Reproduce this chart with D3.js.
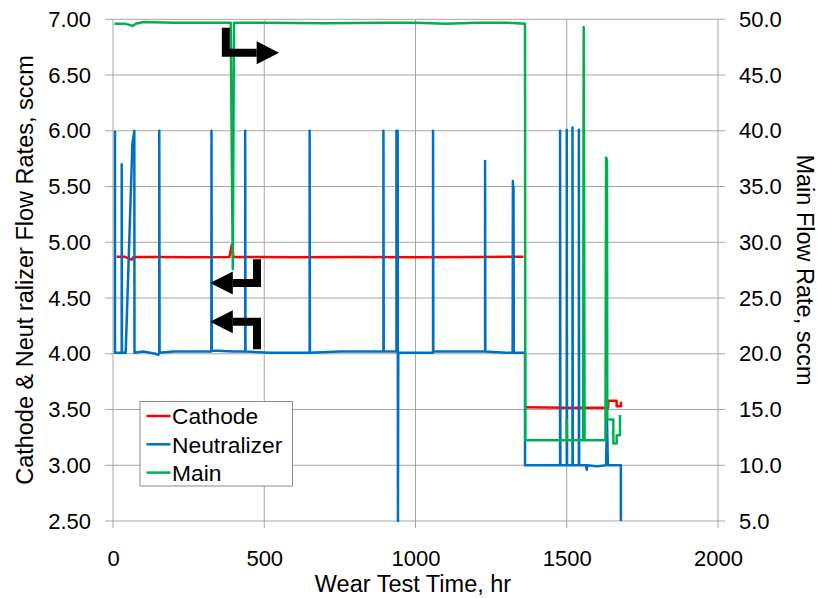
<!DOCTYPE html>
<html>
<head>
<meta charset="utf-8">
<script src="https://cdn.jsdelivr.net/npm/d3@7"></script>
<style>
  html, body { margin: 0; padding: 0; background: #fff; }
  text { font-family: "Liberation Sans", Arial, sans-serif; fill: #000; }
</style>
</head>
<body>
<svg id="chart" width="817" height="598"></svg>
<script>
// ---------- data ----------
const xTicks = [0, 500, 1000, 1500, 2000];
const leftTicks = [2.5, 3.0, 3.5, 4.0, 4.5, 5.0, 5.5, 6.0, 6.5, 7.0];
const rightTicks = [5, 10, 15, 20, 25, 30, 35, 40, 45, 50];
const seriesNames = ["Cathode", "Neutralizer", "Main"];
const seriesColors = ["#ff0000", "#0070c0", "#00b050"];

// Cathode flow (left axis, sccm) : [hours, value]
const cathode = [
  [12, 4.87], [40, 4.87], [55, 4.85], [62, 4.845], [68, 4.868], [150, 4.868], [250, 4.865],
  [385, 4.868], [393, 4.98], [398, 4.868], [600, 4.865], [800, 4.868], [1000, 4.865],
  [1200, 4.868], [1357, 4.87], [1359, null], [1362, 3.52], [1500, 3.515], [1637, 3.515],
  [1637, 3.578], [1665, 3.578], [1665, 3.53], [1679, 3.53], [1679, 3.57]
];

// Neutralizer flow (left axis, sccm)
const neutralizer = [
  [6.6, 6.00], [6.6, 4.01], [28.8, 4.01], [28.8, 5.70], [29.6, 4.01], [42, 4.01], [64, 5.88],
  [70.5, 6.00], [71, 4.01], [100, 4.02], [140, 4.00], [150, 3.99], [153, 4.01], [153, 6.00],
  [154, 4.01], [200, 4.02], [325, 4.02], [325.6, 6.00], [326.5, 4.03], [400, 4.02], [437, 4.02],
  [437, 6.00], [438, 4.02], [520, 4.01], [650, 4.01], [650, 6.00], [651, 4.01], [750, 4.02],
  [894, 4.02], [894, 6.00], [895, 4.02], [937, 4.02], [937, 6.00], [939, 4.02], [941, 6.00],
  [942, 2.50], [943, 4.01], [1000, 4.01], [1058, 4.01], [1058, 6.00], [1059, 4.02], [1150, 4.02],
  [1230, 4.02], [1230, 5.73], [1231, 4.02], [1300, 4.01], [1321, 4.01], [1322, 5.55], [1323, 4.01],
  [1324, 5.50], [1325, 4.01], [1362, 4.01], [1362, 3.00], [1400, 3.00], [1478, 3.00], [1478, 6.00],
  [1479, 3.00], [1500, 3.00], [1500, 6.01], [1501, 3.00], [1519, 3.00], [1519, 6.03], [1520, 3.00],
  [1540, 3.00], [1540, 6.01], [1541, 3.00], [1564, 3.00], [1566, 2.96], [1568, 3.00], [1600, 2.99],
  [1630, 3.00], [1633, 3.42], [1636, 3.00], [1679, 3.00], [1679, 2.50]
];

// Main flow (right axis, sccm)
const mainFlow = [
  [5, 49.6], [40, 49.6], [55, 49.5], [65, 49.4], [75, 49.6], [100, 49.75], [200, 49.7],
  [300, 49.7], [389, 49.7], [396, 27.6], [400, 49.7], [500, 49.7], [700, 49.65], [900, 49.7],
  [1000, 49.7], [1100, 49.6], [1200, 49.7], [1300, 49.7], [1362, 49.6], [1363, 12.25],
  [1500, 12.25], [1500, 14.1], [1501, 12.25], [1554, 12.25], [1556, 49.3], [1559, 12.25],
  [1628, 12.25], [1630, 37.6], [1633, 37.4], [1634, 14.1], [1654, 14.1], [1654, 11.96],
  [1665, 11.96], [1665, 12.7], [1676, 12.7], [1676, 14.5]
];

// Annotation arrows (data units: hours, left-axis value)
const arrows = [
  { path: [[373, 6.925], [373, 6.70], [475, 6.70]], tip: [549, 6.70] },
  { path: [[476, 4.847], [476, 4.635], [396, 4.635]], tip: [321, 4.635] },
  { path: [[476, 4.04], [476, 4.288], [396, 4.288]], tip: [321, 4.288] }
];

// ---------- layout ----------
const svg = d3.select("#chart");
const x = d3.scaleLinear().domain([0, 2000]).range([113, 718]);
const yL = d3.scaleLinear().domain([2.5, 7.0]).range([521, 19.3]);
const yR = d3.scaleLinear().domain([5, 50]).range([521, 19.3]);
const gridColor = "#a6a6a6";

// grid
svg.append("g").selectAll("line").data(leftTicks).join("line")
  .attr("x1", 105).attr("x2", 725)
  .attr("y1", d => yL(d)).attr("y2", d => yL(d))
  .attr("stroke", gridColor).attr("stroke-width", 1);
svg.append("g").selectAll("line").data(xTicks).join("line")
  .attr("x1", d => x(d)).attr("x2", d => x(d))
  .attr("y1", yL(7.0)).attr("y2", 528)
  .attr("stroke", gridColor).attr("stroke-width", 1);

// axes (labels)
const fs = "22px";
const gL = svg.append("g").attr("transform", `translate(${x(0)},0)`)
  .call(d3.axisLeft(yL).tickValues(leftTicks).tickFormat(d3.format(".2f")).tickSize(0).tickPadding(22));
const gR = svg.append("g").attr("transform", `translate(${x(2000)},0)`)
  .call(d3.axisRight(yR).tickValues(rightTicks).tickFormat(d3.format(".1f")).tickSize(0).tickPadding(21));
const gB = svg.append("g").attr("transform", `translate(0,${yL(2.5)})`)
  .call(d3.axisBottom(x).tickValues(xTicks).tickFormat(d3.format("d")).tickSize(0).tickPadding(29));
[gL, gR, gB].forEach(g => {
  g.select(".domain").remove();
  g.selectAll("text").style("font-size", fs).attr("fill", "#000");
});

// axis titles
svg.append("text").attr("x", 413).attr("y", 592).attr("text-anchor", "middle")
  .style("font-size", "23.5px").text("Wear Test Time, hr");
svg.append("text").attr("transform", "translate(33,270) rotate(-90)").attr("text-anchor", "middle")
  .style("font-size", "23.5px").text("Cathode & Neut ralizer Flow Rates, sccm");
svg.append("text").attr("transform", "translate(797,270) rotate(90)").attr("text-anchor", "middle")
  .style("font-size", "23.5px").text("Main Flow Rate, sccm");

// series
const lineL = d3.line().defined(d => d[1] !== null).x(d => x(d[0])).y(d => yL(d[1]));
const lineR = d3.line().defined(d => d[1] !== null).x(d => x(d[0])).y(d => yR(d[1]));
const plot = svg.append("g");
plot.append("path").datum(cathode).attr("d", lineL).attr("fill", "none")
  .attr("stroke", seriesColors[0]).attr("stroke-width", 2.5).attr("stroke-linejoin", "round");
plot.append("path").datum(neutralizer).attr("d", lineL).attr("fill", "none")
  .attr("stroke", seriesColors[1]).attr("stroke-width", 2.5).attr("stroke-linejoin", "round");
plot.append("path").datum(mainFlow).attr("d", lineR).attr("fill", "none")
  .attr("stroke", seriesColors[2]).attr("stroke-width", 2.5).attr("stroke-linejoin", "round");

// arrows
const ag = svg.append("g");
arrows.forEach(a => {
  const pts = a.path.map(p => [x(p[0]), yL(p[1])]);
  ag.append("path").attr("d", d3.line()(pts)).attr("fill", "none")
    .attr("stroke", "#000").attr("stroke-width", 8).attr("stroke-linejoin", "miter");
  const base = pts[pts.length - 1];
  const tip = [x(a.tip[0]), yL(a.tip[1])];
  const h = 11.5;
  ag.append("polygon")
    .attr("points", [[base[0], base[1] - h], [tip[0], tip[1]], [base[0], base[1] + h]].map(p => p.join(",")).join(" "))
    .attr("fill", "#000");
});

// legend
const lg = svg.append("g");
lg.append("rect").attr("x", 140).attr("y", 401.5).attr("width", 152.5).attr("height", 84.5)
  .attr("fill", "#fff").attr("stroke", "#8c8c8c").attr("stroke-width", 1);
seriesNames.forEach((n, i) => {
  const cy = 416 + i * 28.3;
  lg.append("line").attr("x1", 146.5).attr("x2", 170.5).attr("y1", cy).attr("y2", cy)
    .attr("stroke", seriesColors[i]).attr("stroke-width", 2.5);
  lg.append("text").attr("x", 172).attr("y", cy).attr("dy", "0.36em")
    .style("font-size", "22.8px").text(n);
});
</script>
</body>
</html>
